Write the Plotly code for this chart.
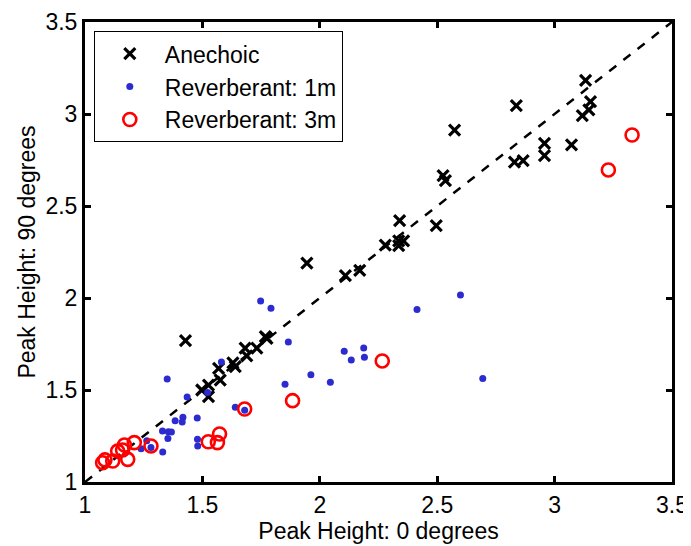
import plotly.graph_objects as go

# Peak heights
anech_x = [1.945, 2.109, 2.17, 1.428, 1.768, 1.775, 1.732, 1.682, 1.689, 1.64, 1.63,
           1.569, 1.576, 1.526, 1.497, 1.526,
           3.132, 3.153, 3.146, 3.118, 2.837, 2.574, 3.072, 2.957, 2.957, 2.829,
           2.866, 2.525, 2.535, 2.34, 2.496, 2.279, 2.336, 2.357, 2.336]
anech_y = [2.19, 2.121, 2.15, 1.768, 1.79, 1.78, 1.727, 1.727, 1.685, 1.627, 1.647,
           1.618, 1.554, 1.527, 1.5, 1.464,
           3.183, 3.067, 3.022, 2.991, 3.045, 2.913, 2.832, 2.841, 2.774, 2.738,
           2.747, 2.665, 2.638, 2.42, 2.393, 2.288, 2.311, 2.31, 2.284]

rev1_x = [1.748, 1.792, 1.866, 2.104, 2.134, 2.187, 2.19, 1.962, 2.045, 1.852,
          1.581, 1.35, 1.522, 1.435, 1.64, 1.68, 1.478, 1.417, 1.414, 1.384,
          1.33, 1.355, 1.368, 1.353, 1.479, 1.48, 1.331, 1.281, 1.239, 1.263,
          2.414, 2.599, 2.694]
rev1_y = [1.984, 1.944, 1.761, 1.71, 1.663, 1.728, 1.678, 1.583, 1.542, 1.531,
          1.652, 1.56, 1.487, 1.462, 1.406, 1.39, 1.348, 1.352, 1.326, 1.333,
          1.277, 1.273, 1.272, 1.237, 1.232, 1.196, 1.163, 1.188, 1.181, 1.224,
          1.938, 2.016, 1.563]

rev3_x = [1.884, 1.68, 1.573, 1.525, 1.564, 1.281, 1.21, 1.168, 1.139, 1.182,
          1.118, 1.085, 1.075, 1.16, 2.266, 3.33, 3.229]
rev3_y = [1.442, 1.397, 1.261, 1.219, 1.214, 1.196, 1.214, 1.201, 1.168, 1.123,
          1.114, 1.12, 1.105, 1.174, 1.658, 2.886, 2.696]

diag = [1, 3.5]
tick_vals = [1, 1.5, 2, 2.5, 3, 3.5]
tick_text = ["1", "1.5", "2", "2.5", "3", "3.5"]

fig = go.Figure()
fig.add_trace(go.Scatter(x=diag, y=diag, mode="lines", showlegend=False,
                         line=dict(color="black", width=2.5, dash="dash")))
fig.add_trace(go.Scatter(x=anech_x, y=anech_y, mode="markers", name="Anechoic",
                         marker=dict(symbol="x-thin", size=11, color="black",
                                     line=dict(color="black", width=3.2))))
fig.add_trace(go.Scatter(x=rev1_x, y=rev1_y, mode="markers", name="Reverberant: 1m",
                         marker=dict(symbol="circle", size=7, color="#2b2bd0")))
fig.add_trace(go.Scatter(x=rev3_x, y=rev3_y, mode="markers", name="Reverberant: 3m",
                         marker=dict(symbol="circle-open", size=13, color="red",
                                     line=dict(color="red", width=2.6))))

axis_common = dict(range=[1, 3.5], tickvals=tick_vals, ticktext=tick_text,
                   showgrid=False, zeroline=False, showline=True, linecolor="black",
                   linewidth=3, mirror="ticks", ticks="inside", ticklen=6,
                   tickwidth=3, tickcolor="black", automargin=False,
                   tickfont=dict(size=23, color="black"))

# page body has an 8px margin, so the figure is a bit smaller than the window
fig.update_layout(
    width=683, height=538,
    margin=dict(l=77, r=19, t=14, b=64),
    paper_bgcolor="white", plot_bgcolor="white",
    font=dict(family="Liberation Sans, Arial, sans-serif", color="black", size=23),
    xaxis=dict(axis_common, ticklabelstandoff=0,
               title=dict(text="Peak Height: 0 degrees", font=dict(size=23), standoff=7)),
    yaxis=dict(axis_common, ticklabelstandoff=0,
               title=dict(text="Peak Height: 90 degrees", font=dict(size=23), standoff=4)),
    legend=dict(x=0.015, y=0.98, xanchor="left", yanchor="top",
                bgcolor="white", bordercolor="black", borderwidth=1,
                font=dict(size=23), itemwidth=60, tracegroupgap=0),
)

fig.write_html("out.html")
